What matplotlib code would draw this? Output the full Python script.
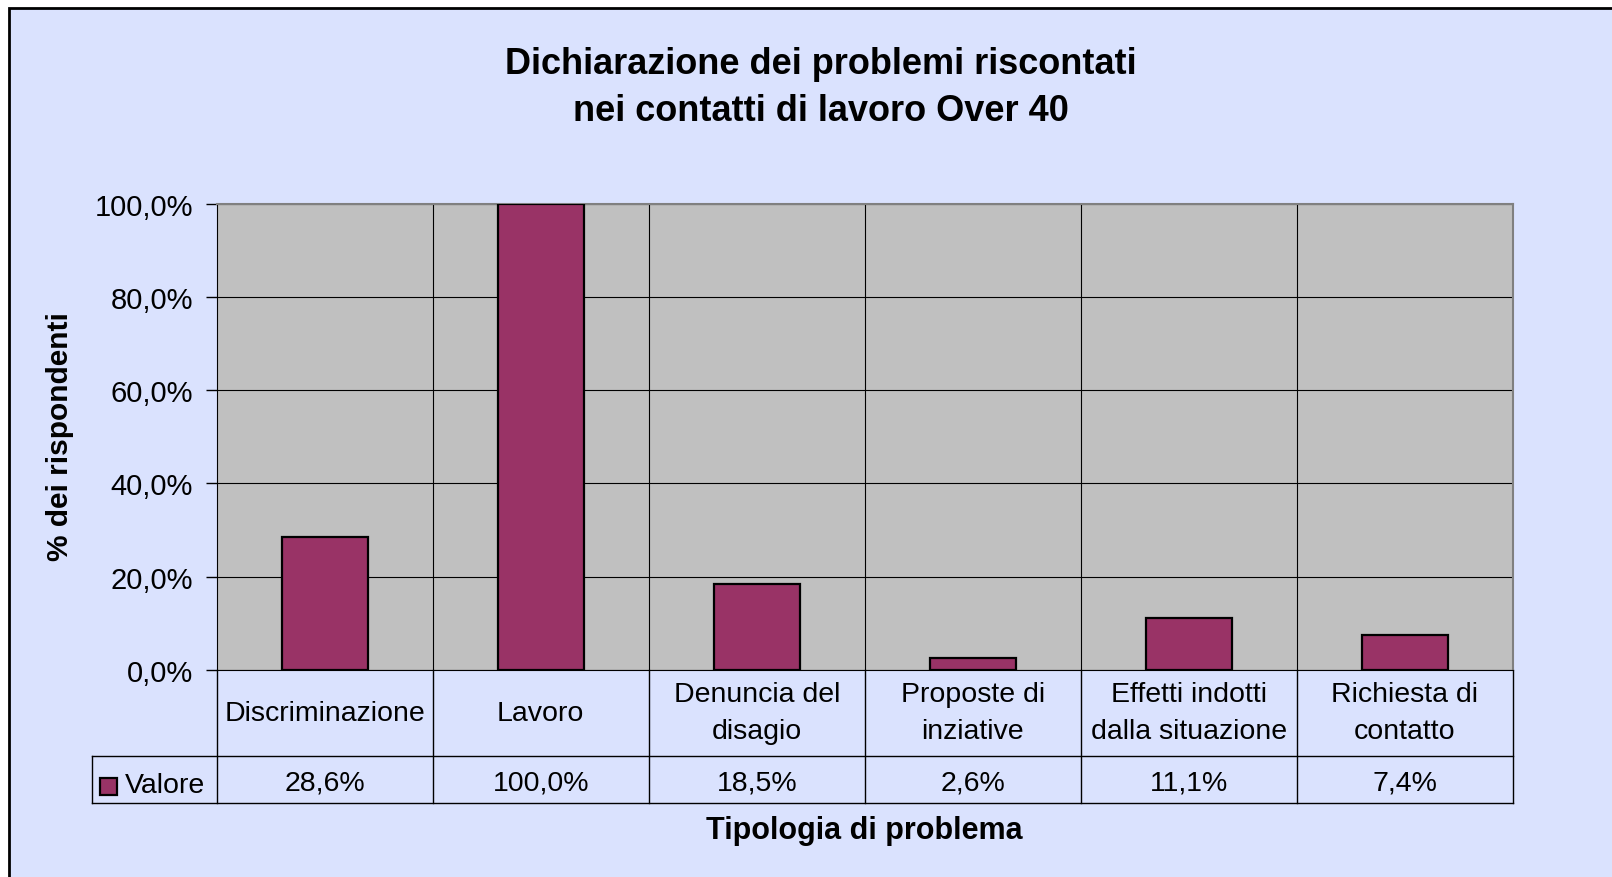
import matplotlib.pyplot as plt
from matplotlib.patches import Rectangle

plt.rcParams['font.family'] = ['Liberation Sans', 'DejaVu Sans']

# data
categories = ['Discriminazione', 'Lavoro', 'Denuncia del\ndisagio', 'Proposte di\ninziative',
              'Effetti indotti\ndalla situazione', 'Richiesta di\ncontatto']
values = [28.6, 100.0, 18.5, 2.6, 11.1, 7.4]
value_labels = ['28,6%', '100,0%', '18,5%', '2,6%', '11,1%', '7,4%']
yticks = [0, 20, 40, 60, 80, 100]
ytick_labels = ['0,0%', '20,0%', '40,0%', '60,0%', '80,0%', '100,0%']
series_name = 'Valore'

bg = '#DAE2FE'
bar_color = '#993366'
W, H = 1612, 878

fig = plt.figure(figsize=(W / 100, H / 100), dpi=100, facecolor='white')

# chart frame (extends past right/bottom edge)
fig.patches.append(Rectangle((9 / W, -0.1), 1.2, 1 - 9 / H + 0.1, transform=fig.transFigure,
                             facecolor=bg, edgecolor='black', linewidth=2, zorder=-5))

left, right, top, bottom = 216.7, 1513, 205, 670.7
ax = fig.add_axes([left / W, 1 - bottom / H, (right - left) / W, (bottom - top) / H])
ax.set_zorder(2)
ax.set_facecolor('#C0C0C0')

x = list(range(len(categories)))
ax.bar(x, values, width=0.4, color=bar_color, edgecolor='black', linewidth=1.6, zorder=3)

ax.set_xlim(-0.5, len(categories) - 0.5)
ax.set_ylim(0, 100)
ax.set_yticks(yticks)
ax.set_yticklabels(ytick_labels, fontsize=21)
ax.tick_params(axis='y', length=8, width=1, pad=9, colors='black')
ax.set_xticks([])
ax.yaxis.grid(True, color='black', linewidth=0.8, zorder=1)
ax.set_axisbelow(True)
for xb in range(1, len(categories)):
    ax.axvline(xb - 0.5, color='black', linewidth=0.8, zorder=1)

for s in ['top', 'right']:
    ax.spines[s].set_color('#808080')
    ax.spines[s].set_linewidth(1.5)
ax.spines['left'].set_color('black')
ax.spines['bottom'].set_color('black')

# data table below the plot
ph = bottom - top
y_cat = (bottom - 756.7) / ph
y_val = (bottom - 804) / ph
px_per_unit = (right - left) / len(categories)
x_leg = -0.5 - (left - 91.7) / px_per_unit
xt = ax.get_xaxis_transform()
n = len(categories)
lk = dict(color='black', linewidth=1, transform=xt, clip_on=False)
ax.plot([-0.5, -0.5], [0, y_val], **lk)
for i in range(n):
    ax.plot([i + 0.5, i + 0.5], [0, y_val], **lk)
ax.plot([x_leg, n - 0.5], [y_cat, y_cat], **lk)
ax.plot([x_leg, n - 0.5], [y_val, y_val], **lk)
ax.plot([x_leg, x_leg], [y_cat, y_val], **lk)

for i, (c, v) in enumerate(zip(categories, value_labels)):
    ax.text(i, y_cat / 2, c, transform=xt, ha='center', va='center', fontsize=20.5,
            linespacing=1.55)
    ax.text(i, (y_cat + y_val) / 2 - 3 / ph, v, transform=xt, ha='center', va='center',
            fontsize=20.5)

# legend key in the table
ax.add_patch(Rectangle((x_leg + 8 / px_per_unit, (bottom - 796) / ph), 17 / px_per_unit, 17 / ph,
                       transform=xt, facecolor=bar_color, edgecolor='black', linewidth=1.6,
                       clip_on=False))
ax.text(x_leg + 33 / px_per_unit, (y_cat + y_val) / 2 - 6 / ph, series_name, transform=xt,
        ha='left', va='center', fontsize=20.5)

fig.text(821 / W, 1 - 88 / H, 'Dichiarazione dei problemi riscontati\nnei contatti di lavoro Over 40',
         ha='center', va='center', fontsize=26, fontweight='bold', linespacing=1.45)
fig.text(60 / W, 1 - 437 / H, '% dei rispondenti', rotation=90, ha='center', va='center',
         fontsize=21.5, fontweight='bold')
fig.text(864 / W, 1 - 831 / H, 'Tipologia di problema', ha='center', va='center',
         fontsize=22, fontweight='bold')

fig.savefig('out.png', dpi=100, facecolor=fig.get_facecolor())
